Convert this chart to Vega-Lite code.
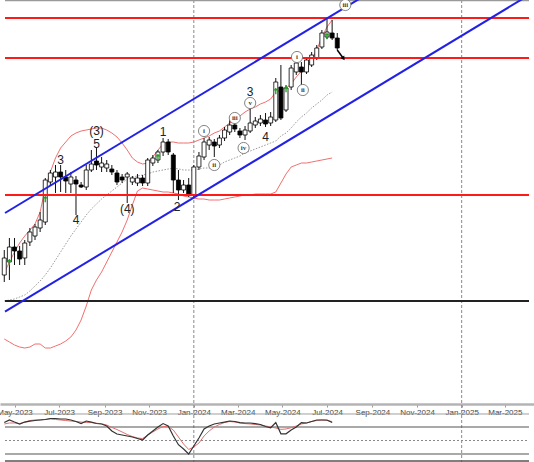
{
  "$schema": "https://vega.github.io/schema/vega-lite/v6.json",
  "width": 534,
  "height": 462,
  "autosize": {"type": "none"},
  "padding": 0,
  "background": "white",
  "config": {"view": {"stroke": null}, "font": "Liberation Sans"},
  "datasets": {
    "candles": [
      {"d":"2023-04-17","o":128,"h":153,"l":121,"c":145,"up":130,"mid":102,"lo":64},
      {"d":"2023-04-24","o":141,"h":165,"l":123,"c":156,"up":141,"mid":103,"lo":61},
      {"d":"2023-05-01","o":156,"h":165,"l":138,"c":152,"up":151,"mid":104,"lo":58},
      {"d":"2023-05-08","o":152,"h":157,"l":138,"c":144,"up":160,"mid":106,"lo":56},
      {"d":"2023-05-15","o":145,"h":163,"l":138,"c":160,"up":167,"mid":108,"lo":55},
      {"d":"2023-05-22","o":161,"h":175,"l":157,"c":171,"up":173,"mid":112,"lo":56},
      {"d":"2023-05-29","o":167,"h":179,"l":163,"c":176,"up":179,"mid":117,"lo":59},
      {"d":"2023-06-05","o":175,"h":191,"l":171,"c":183,"up":191,"mid":122,"lo":59},
      {"d":"2023-06-12","o":181,"h":225,"l":178,"c":223,"up":215,"mid":128,"lo":55},
      {"d":"2023-06-19","o":221,"h":233,"l":217,"c":230,"up":231,"mid":135,"lo":55},
      {"d":"2023-06-26","o":226,"h":238,"l":210,"c":231,"up":245,"mid":143,"lo":57},
      {"d":"2023-07-03","o":231,"h":238,"l":211,"c":226,"up":255,"mid":151,"lo":59},
      {"d":"2023-07-10","o":226,"h":233,"l":210,"c":222,"up":261,"mid":159,"lo":62},
      {"d":"2023-07-17","o":219,"h":231,"l":210,"c":226,"up":267,"mid":167,"lo":66},
      {"d":"2023-07-24","o":223,"h":227,"l":188,"c":219,"up":270,"mid":174,"lo":73},
      {"d":"2023-07-31","o":218,"h":221,"l":215,"c":216,"up":272,"mid":181,"lo":83},
      {"d":"2023-08-07","o":216,"h":238,"l":213,"c":233,"up":273,"mid":188,"lo":97},
      {"d":"2023-08-14","o":233,"h":253,"l":231,"c":239,"up":274,"mid":194,"lo":113},
      {"d":"2023-08-21","o":242,"h":255,"l":233,"c":238,"up":275,"mid":199,"lo":123},
      {"d":"2023-08-28","o":236,"h":246,"l":231,"c":240,"up":275,"mid":204,"lo":131},
      {"d":"2023-09-04","o":235,"h":243,"l":231,"c":239,"up":273,"mid":208,"lo":141},
      {"d":"2023-09-11","o":234,"h":238,"l":228,"c":231,"up":270,"mid":212,"lo":151},
      {"d":"2023-09-18","o":230,"h":233,"l":218,"c":221,"up":266,"mid":216,"lo":161},
      {"d":"2023-09-25","o":226,"h":229,"l":220,"c":223,"up":260,"mid":220,"lo":171},
      {"d":"2023-10-02","o":226,"h":231,"l":200,"c":229,"up":253,"mid":224,"lo":183},
      {"d":"2023-10-09","o":221,"h":227,"l":218,"c":225,"up":245,"mid":226,"lo":198},
      {"d":"2023-10-16","o":220,"h":229,"l":217,"c":225,"up":241,"mid":227,"lo":212},
      {"d":"2023-10-23","o":225,"h":228,"l":217,"c":220,"up":239,"mid":228,"lo":215},
      {"d":"2023-10-30","o":220,"h":245,"l":217,"c":243,"up":240,"mid":229,"lo":214},
      {"d":"2023-11-06","o":240,"h":248,"l":237,"c":245,"up":246,"mid":231,"lo":213},
      {"d":"2023-11-13","o":243,"h":253,"l":240,"c":251,"up":253,"mid":232,"lo":212},
      {"d":"2023-11-20","o":251,"h":265,"l":247,"c":261,"up":259,"mid":233,"lo":211},
      {"d":"2023-11-27","o":261,"h":264,"l":248,"c":251,"up":261,"mid":234,"lo":211},
      {"d":"2023-12-04","o":248,"h":250,"l":210,"c":223,"up":261,"mid":235,"lo":210},
      {"d":"2023-12-11","o":223,"h":233,"l":203,"c":213,"up":260,"mid":234,"lo":209},
      {"d":"2023-12-18","o":213,"h":223,"l":210,"c":218,"up":260,"mid":233,"lo":207},
      {"d":"2023-12-25","o":218,"h":225,"l":206,"c":209,"up":260,"mid":233,"lo":206},
      {"d":"2024-01-01","o":208,"h":238,"l":206,"c":236,"up":261,"mid":233,"lo":205},
      {"d":"2024-01-08","o":236,"h":251,"l":233,"c":247,"up":263,"mid":234,"lo":204},
      {"d":"2024-01-15","o":246,"h":265,"l":243,"c":261,"up":265,"mid":235,"lo":204},
      {"d":"2024-01-22","o":258,"h":266,"l":253,"c":263,"up":267,"mid":235,"lo":203},
      {"d":"2024-01-29","o":261,"h":264,"l":246,"c":257,"up":270,"mid":236,"lo":203},
      {"d":"2024-02-05","o":258,"h":268,"l":255,"c":265,"up":272,"mid":238,"lo":203},
      {"d":"2024-02-12","o":265,"h":276,"l":262,"c":273,"up":276,"mid":241,"lo":204},
      {"d":"2024-02-19","o":271,"h":283,"l":268,"c":278,"up":280,"mid":243,"lo":205},
      {"d":"2024-02-26","o":278,"h":281,"l":271,"c":274,"up":283,"mid":245,"lo":206},
      {"d":"2024-03-04","o":272,"h":275,"l":265,"c":268,"up":287,"mid":247,"lo":207},
      {"d":"2024-03-11","o":268,"h":277,"l":263,"c":273,"up":291,"mid":250,"lo":208},
      {"d":"2024-03-18","o":272,"h":295,"l":270,"c":280,"up":294,"mid":252,"lo":208},
      {"d":"2024-03-25","o":278,"h":286,"l":275,"c":282,"up":296,"mid":254,"lo":209},
      {"d":"2024-04-01","o":280,"h":288,"l":277,"c":284,"up":299,"mid":256,"lo":209},
      {"d":"2024-04-08","o":283,"h":290,"l":276,"c":279,"up":301,"mid":258,"lo":209},
      {"d":"2024-04-15","o":280,"h":291,"l":277,"c":286,"up":304,"mid":260,"lo":209},
      {"d":"2024-04-22","o":283,"h":325,"l":281,"c":321,"up":311,"mid":262,"lo":211},
      {"d":"2024-04-29","o":316,"h":338,"l":283,"c":285,"up":313,"mid":267,"lo":220},
      {"d":"2024-05-06","o":293,"h":318,"l":291,"c":315,"up":315,"mid":270,"lo":229},
      {"d":"2024-05-13","o":316,"h":338,"l":313,"c":335,"up":319,"mid":275,"lo":236},
      {"d":"2024-05-20","o":331,"h":343,"l":328,"c":340,"up":326,"mid":281,"lo":238},
      {"d":"2024-05-27","o":336,"h":341,"l":318,"c":331,"up":332,"mid":286,"lo":240},
      {"d":"2024-06-03","o":331,"h":345,"l":329,"c":343,"up":337,"mid":290,"lo":240},
      {"d":"2024-06-10","o":338,"h":351,"l":336,"c":348,"up":343,"mid":295,"lo":241},
      {"d":"2024-06-17","o":345,"h":358,"l":343,"c":355,"up":353,"mid":299,"lo":242},
      {"d":"2024-06-24","o":356,"h":373,"l":354,"c":370,"up":366,"mid":303,"lo":243},
      {"d":"2024-07-01","o":366,"h":385,"l":364,"c":371,"up":376,"mid":308,"lo":244},
      {"d":"2024-07-08","o":370,"h":383,"l":363,"c":365,"up":383,"mid":311,"lo":245},
      {"d":"2024-07-15","o":365,"h":370,"l":353,"c":355}
    ],
    "osc": [
      {"d":"2023-04-17","s":89.8,"g":86.7},{"d":"2023-04-24","s":95.6,"g":88.9},{"d":"2023-05-01","s":91,"g":88.9},
      {"d":"2023-05-08","s":86.7,"g":87.6},{"d":"2023-05-15","s":91,"g":91},{"d":"2023-05-22","s":93,"g":94.4},
      {"d":"2023-05-29","s":94.4,"g":95.6},{"d":"2023-06-05","s":95.6,"g":96},{"d":"2023-06-12","s":96.7,"g":96.7},
      {"d":"2023-06-19","s":98.9,"g":97.8},{"d":"2023-06-26","s":98.9,"g":96.7},{"d":"2023-07-03","s":97.8,"g":95.6},
      {"d":"2023-07-10","s":97.8,"g":94.4},{"d":"2023-07-17","s":95.6,"g":93.3},{"d":"2023-07-24","s":92.2,"g":92.2},
      {"d":"2023-07-31","s":87.8,"g":91},{"d":"2023-08-07","s":93.3,"g":90},{"d":"2023-08-14","s":91,"g":89.8},
      {"d":"2023-08-21","s":87.8,"g":88.4},{"d":"2023-08-28","s":86.7,"g":87.1},{"d":"2023-09-04","s":82.2,"g":84.4},
      {"d":"2023-09-11","s":71.1,"g":78.9},{"d":"2023-09-18","s":64.4,"g":74.4},{"d":"2023-09-25","s":62.2,"g":68.9},
      {"d":"2023-10-02","s":60,"g":63.3},{"d":"2023-10-09","s":57.8,"g":58.9},{"d":"2023-10-16","s":54.4,"g":55.6},
      {"d":"2023-10-23","s":51.1,"g":54.2},{"d":"2023-10-30","s":62.2,"g":62.2},{"d":"2023-11-06","s":71.1,"g":68.9},
      {"d":"2023-11-13","s":80,"g":75.6},{"d":"2023-11-20","s":87.6,"g":81.1},{"d":"2023-11-27","s":82.2,"g":81.1},
      {"d":"2023-12-04","s":60,"g":73.3},{"d":"2023-12-11","s":40.7,"g":57.8},{"d":"2023-12-18","s":31,"g":42.2},
      {"d":"2023-12-25","s":20,"g":30},{"d":"2024-01-01","s":37.8,"g":35.6},{"d":"2024-01-08","s":55.6,"g":44.4},
      {"d":"2024-01-15","s":75.6,"g":60},{"d":"2024-01-22","s":82.2,"g":71.1},{"d":"2024-01-29","s":86.7,"g":80},
      {"d":"2024-02-05","s":88.9,"g":85.6},{"d":"2024-02-12","s":91,"g":90},{"d":"2024-02-19","s":93.3,"g":92.2},
      {"d":"2024-02-26","s":92.2,"g":91},{"d":"2024-03-04","s":89.8,"g":88.9},{"d":"2024-03-11","s":88.9,"g":87.6},
      {"d":"2024-03-18","s":88.9,"g":86.7},{"d":"2024-03-25","s":87.6,"g":85.6},{"d":"2024-04-01","s":85.6,"g":84.4},
      {"d":"2024-04-08","s":81.1,"g":82.2},{"d":"2024-04-15","s":78.4,"g":80},{"d":"2024-04-22","s":89.8,"g":77.8},
      {"d":"2024-04-29","s":64.9,"g":74.7},{"d":"2024-05-06","s":64.9,"g":75.6},{"d":"2024-05-13","s":73.3,"g":78.4},
      {"d":"2024-05-20","s":80,"g":82.2},{"d":"2024-05-27","s":89.8,"g":86.7},{"d":"2024-06-03","s":88.9,"g":88.9},
      {"d":"2024-06-10","s":92.2,"g":92.2},{"d":"2024-06-17","s":95.6,"g":94.4},{"d":"2024-06-24","s":95.6,"g":95.6},
      {"d":"2024-07-01","s":95.6,"g":94.4},{"d":"2024-07-08","s":90,"g":92.2}
    ],
    "circled": [
      {"d": "2024-01-15", "p": 272, "t": "i"}, {"d": "2024-01-29", "p": 238, "t": "ii"},
      {"d": "2024-02-26", "p": 285, "t": "iii"}, {"d": "2024-03-09", "p": 255, "t": "iv"},
      {"d": "2024-03-18", "p": 300, "t": "v"}, {"d": "2024-05-21", "p": 346, "t": "i"},
      {"d": "2024-05-29", "p": 313, "t": "ii"}, {"d": "2024-07-26", "p": 398, "t": "iii"}
    ]
  },
  "encoding": {
    "x": {
      "field": "d", "type": "temporal",
      "scale": {"type": "utc", "nice": false, "domain": [{"year": 2023, "month": 4, "date": 18, "utc": true}, {"year": 2025, "month": 4, "date": 3, "utc": true}]},
      "axis": {
        "orient": "bottom", "offset": -58, "title": null, "grid": false,
        "values": [
          {"year": 2023, "month": 5, "date": 1, "utc": true}, {"year": 2023, "month": 7, "date": 1, "utc": true},
          {"year": 2023, "month": 9, "date": 1, "utc": true}, {"year": 2023, "month": 11, "date": 1, "utc": true},
          {"year": 2024, "month": 1, "date": 1, "utc": true}, {"year": 2024, "month": 3, "date": 1, "utc": true},
          {"year": 2024, "month": 5, "date": 1, "utc": true}, {"year": 2024, "month": 7, "date": 1, "utc": true},
          {"year": 2024, "month": 9, "date": 1, "utc": true}, {"year": 2024, "month": 11, "date": 1, "utc": true},
          {"year": 2025, "month": 1, "date": 1, "utc": true}, {"year": 2025, "month": 3, "date": 1, "utc": true}
        ],
        "format": "%b-%Y",
        "labelFont": "Liberation Sans", "labelFontSize": 8, "labelColor": "#444",
        "domainColor": "#b4b4b4", "domainWidth": 2.5,
        "tickColor": "#999", "tickSize": 3, "labelPadding": 1,
        "labelFlush": false, "labelOverlap": false, "labelBound": false
      }
    }
  },
  "resolve": {"scale": {"y": "independent"}},
  "layer": [
    {
      "layer": [
        {
          "data": {"name": "candles"},
          "mark": {"type": "line", "color": "#f07070", "strokeWidth": 1},
          "encoding": {"y": {"field": "up", "type": "quantitative", "axis": null, "scale": {"domain": [-59, 403], "nice": false, "zero": false}}}
        },
        {
          "data": {"name": "candles"},
          "mark": {"type": "line", "color": "#f07070", "strokeWidth": 1},
          "encoding": {"y": {"field": "lo", "type": "quantitative", "axis": null, "scale": {"domain": [-59, 403], "nice": false, "zero": false}}}
        },
        {
          "data": {"name": "candles"},
          "mark": {"type": "line", "color": "#9a9a9a", "strokeWidth": 1, "strokeDash": [1.5, 1.5]},
          "encoding": {"y": {"field": "mid", "type": "quantitative", "axis": null, "scale": {"domain": [-59, 403], "nice": false, "zero": false}}}
        },
        {
          "data": {"values": [{"d": "2024-01-01"}, {"d": "2025-01-01"}]},
          "mark": {"type": "rule", "color": "#8a8a8a", "strokeWidth": 1, "strokeDash": [3, 2]},
          "encoding": {}
        },
        {
          "data": {"name": "candles"},
          "mark": {"type": "rule", "color": "#111", "strokeWidth": 1},
          "encoding": {
            "y": {"field": "h", "type": "quantitative", "axis": null, "scale": {"domain": [-59, 403], "nice": false, "zero": false}},
            "y2": {"field": "l"}
          }
        },
        {
          "data": {"name": "candles"},
          "mark": {"type": "bar", "width": 4, "stroke": "#000", "strokeWidth": 0.8, "clip": true},
          "encoding": {
            "y": {"field": "o", "type": "quantitative", "axis": null, "scale": {"domain": [-59, 403], "nice": false, "zero": false}},
            "y2": {"field": "c"},
            "fill": {"condition": {"test": "datum.c > datum.o", "value": "#ffffff"}, "value": "#000000"}
          }
        },
        {
          "data": {"values": [
            {"d": "2023-04-18", "d2": "2025-04-03", "p": 385},
            {"d": "2023-04-18", "d2": "2025-04-03", "p": 345},
            {"d": "2023-04-18", "d2": "2025-04-03", "p": 208}
          ]},
          "mark": {"type": "rule", "color": "#ff1a1a", "strokeWidth": 2},
          "encoding": {
            "x2": {"field": "d2"},
            "y": {"field": "p", "type": "quantitative", "axis": null, "scale": {"domain": [-59, 403], "nice": false, "zero": false}}
          }
        },
        {
          "data": {"values": [{"d": "2023-04-18", "d2": "2025-04-03", "p": 102}]},
          "mark": {"type": "rule", "color": "#222", "strokeWidth": 2},
          "encoding": {
            "x2": {"field": "d2"},
            "y": {"field": "p", "type": "quantitative", "axis": null, "scale": {"domain": [-59, 403], "nice": false, "zero": false}}
          }
        },
        {
          "data": {"values": [{"d": "2023-04-18", "d2": "2025-04-03", "p": 402.4}]},
          "mark": {"type": "rule", "color": "#9a9a9a", "strokeWidth": 1.5},
          "encoding": {
            "x2": {"field": "d2"},
            "y": {"field": "p", "type": "quantitative", "axis": null, "scale": {"domain": [-59, 403], "nice": false, "zero": false}}
          }
        },
        {
          "data": {"values": [
            {"d": "2023-04-18", "p": 190, "d2": "2025-04-03", "p2": 506.7},
            {"d": "2023-04-18", "p": 91.3, "d2": "2025-04-03", "p2": 408}
          ]},
          "mark": {"type": "rule", "color": "#2222e6", "strokeWidth": 2, "clip": true},
          "encoding": {
            "x2": {"field": "d2"},
            "y": {"field": "p", "type": "quantitative", "axis": null, "scale": {"domain": [-59, 403], "nice": false, "zero": false}},
            "y2": {"field": "p2"}
          }
        },
        {
          "data": {"values": [{"d": "2024-07-15", "p": 353, "d2": "2024-07-23", "p2": 345}]},
          "mark": {"type": "rule", "color": "#000", "strokeWidth": 1.5},
          "encoding": {
            "x2": {"field": "d2"},
            "y": {"field": "p", "type": "quantitative", "axis": null, "scale": {"domain": [-59, 403], "nice": false, "zero": false}},
            "y2": {"field": "p2"}
          }
        },
        {
          "data": {"values": [{"d": "2024-07-23", "p": 345}]},
          "mark": {"type": "point", "shape": "triangle", "angle": 145, "size": 22, "filled": true, "color": "#000", "opacity": 1},
          "encoding": {
            "y": {"field": "p", "type": "quantitative", "axis": null, "scale": {"domain": [-59, 403], "nice": false, "zero": false}}
          }
        },
        {
          "data": {"values": [
            {"d": "2023-04-24", "p": 141}, {"d": "2023-06-12", "p": 204}, {"d": "2023-11-13", "p": 246},
            {"d": "2024-04-22", "p": 312}, {"d": "2024-05-06", "p": 314}, {"d": "2024-07-01", "p": 367}
          ]},
          "mark": {"type": "point", "shape": "M0,-1L0.75,-0.15L0.2,-0.15L0.2,1L-0.2,1L-0.2,-0.15L-0.75,-0.15Z", "size": 45, "filled": true, "color": "#1f9f1f", "opacity": 1},
          "encoding": {
            "y": {"field": "p", "type": "quantitative", "axis": null, "scale": {"domain": [-59, 403], "nice": false, "zero": false}}
          }
        },
        {
          "data": {"values": [
            {"d": "2023-07-03", "p": 243, "t": "3"}, {"d": "2023-07-24", "p": 183, "t": "4"},
            {"d": "2023-08-21", "p": 272, "t": "(3)"}, {"d": "2023-08-21", "p": 259, "t": "5"},
            {"d": "2023-10-02", "p": 194, "t": "(4)"}, {"d": "2023-11-20", "p": 271, "t": "1"},
            {"d": "2023-12-09", "p": 196, "t": "2"}, {"d": "2024-03-18", "p": 311, "t": "3"},
            {"d": "2024-04-08", "p": 266, "t": "4"}
          ]},
          "mark": {"type": "text", "fontSize": 12, "color": "#222", "baseline": "middle", "align": "center", "font": "Liberation Sans"},
          "encoding": {
            "y": {"field": "p", "type": "quantitative", "axis": null, "scale": {"domain": [-59, 403], "nice": false, "zero": false}},
            "text": {"field": "t"}
          }
        },
        {
          "data": {"name": "circled"},
          "mark": {"type": "point", "shape": "circle", "size": 125, "filled": true, "fill": "#ffffff", "stroke": "#777", "strokeWidth": 0.9, "opacity": 1},
          "encoding": {
            "y": {"field": "p", "type": "quantitative", "axis": null, "scale": {"domain": [-59, 403], "nice": false, "zero": false}}
          }
        },
        {
          "data": {"name": "circled"},
          "mark": {"type": "text", "fontSize": 7, "color": "#444", "baseline": "middle", "align": "center", "font": "Liberation Serif", "fontWeight": "bold"},
          "encoding": {
            "y": {"field": "p", "type": "quantitative", "axis": null, "scale": {"domain": [-59, 403], "nice": false, "zero": false}},
            "text": {"field": "t"}
          }
        }
      ]
    },
    {
      "layer": [
        {
          "data": {"values": [{"d": "2023-04-18", "d2": "2025-04-03", "v": 80}, {"d": "2023-04-18", "d2": "2025-04-03", "v": 20}]},
          "mark": {"type": "rule", "color": "#555", "strokeWidth": 1.2},
          "encoding": {
            "x2": {"field": "d2"},
            "y": {"field": "v", "type": "quantitative", "axis": null, "scale": {"domain": [2.22, 1028.9], "nice": false, "zero": false}}
          }
        },
        {
          "data": {"values": [{"d": "2023-04-18", "d2": "2025-04-03", "v": 50}]},
          "mark": {"type": "rule", "color": "#888", "strokeWidth": 1, "strokeDash": [2, 2]},
          "encoding": {
            "x2": {"field": "d2"},
            "y": {"field": "v", "type": "quantitative", "axis": null, "scale": {"domain": [2.22, 1028.9], "nice": false, "zero": false}}
          }
        },
        {
          "data": {"values": [{"d": "2023-04-18", "d2": "2025-04-03", "v": 108.9}]},
          "mark": {"type": "rule", "color": "#a0a0a0", "strokeWidth": 1},
          "encoding": {
            "x2": {"field": "d2"},
            "y": {"field": "v", "type": "quantitative", "axis": null, "scale": {"domain": [2.22, 1028.9], "nice": false, "zero": false}}
          }
        },
        {
          "data": {"values": [{"d": "2023-04-18", "d2": "2025-04-03", "v": 4.4}]},
          "mark": {"type": "rule", "color": "#555", "strokeWidth": 1.5},
          "encoding": {
            "x2": {"field": "d2"},
            "y": {"field": "v", "type": "quantitative", "axis": null, "scale": {"domain": [2.22, 1028.9], "nice": false, "zero": false}}
          }
        },
        {
          "data": {"name": "osc"},
          "mark": {"type": "line", "color": "#e07070", "strokeWidth": 1},
          "encoding": {
            "y": {"field": "g", "type": "quantitative", "axis": null, "scale": {"domain": [2.22, 1028.9], "nice": false, "zero": false}}
          }
        },
        {
          "data": {"name": "osc"},
          "mark": {"type": "line", "color": "#333", "strokeWidth": 1.2},
          "encoding": {
            "y": {"field": "s", "type": "quantitative", "axis": null, "scale": {"domain": [2.22, 1028.9], "nice": false, "zero": false}}
          }
        }
      ]
    }
  ]
}
